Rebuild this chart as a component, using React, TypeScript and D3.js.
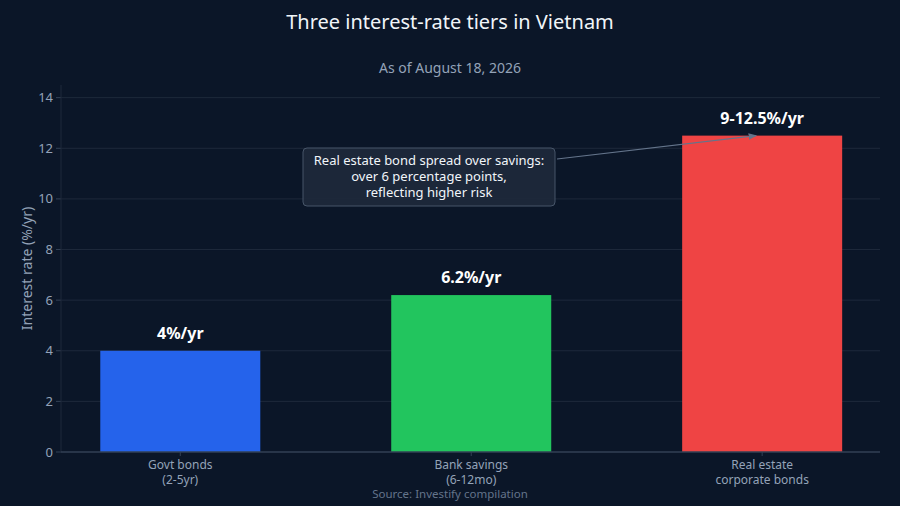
// App.tsx
import React from "react"
import * as d3 from "d3"

const categories = ["Govt bonds\n(2-5yr)", "Bank savings\n(6-12mo)", "Real estate\ncorporate bonds"]
const rates = [4, 6.2, 12.5]
const valueLabels = ["4%/yr", "6.2%/yr", "9-12.5%/yr"]
const barColors = ["#2563eb", "#22c55e", "#ef4444"]
const yTicks = [0, 2, 4, 6, 8, 10, 12, 14]
const noteLines = ["Real estate bond spread over savings:", "over 6 percentage points,", "reflecting higher risk"]

const W = 900
const H = 506
const FONT = "'Noto Sans', 'Open Sans', sans-serif"

export default function App() {
    const left = 61
    const right = 880
    const top = 85
    const bottom = 452

    // x positions: index -> pixel (categories at 0,1,2)
    const x = d3.scaleLinear().domain([-0.41, 2.405]).range([left, right])
    const y = d3.scaleLinear().domain([0, 14.5]).range([bottom, top])
    const barW = x(0.55) - x(0)

    // annotation anchor: top of last bar
    const ax = x(2) - 6
    const ay = y(rates[2])
    const box = { x: 303, y: 148, w: 252, h: 58 }

    return (
        <svg width={W} height={H} style={{ position: "absolute", left: 0, top: 0, background: "#0b1628" }} fontFamily={FONT}>
            <defs>
                <marker id="arr" viewBox="0 0 10 10" refX="9" refY="5" markerWidth="7" markerHeight="7" orient="auto">
                    <path d="M0,1 L10,5 L0,9 z" fill="#64748b" />
                </marker>
            </defs>
            <rect width={W} height={H} fill="#0b1628" />

            <text x={W / 2} y={29} textAnchor="middle" fontSize={20} fill="#f1f5f9">
                Three interest-rate tiers in Vietnam
            </text>
            <text x={W / 2} y={73} textAnchor="middle" fontSize={14} fill="#94a3b8">
                As of August 18, 2026
            </text>

            {/* grid */}
            {yTicks.map((t) => (
                <g key={t}>
                    {t > 0 && <line x1={left} x2={right} y1={y(t)} y2={y(t)} stroke="#1e293b" strokeWidth={1} />}
                    <line x1={left - 5} x2={left} y1={y(t)} y2={y(t)} stroke="#334155" />
                    <text x={left - 8} y={y(t) + 4.5} textAnchor="end" fontSize={13} fill="#94a3b8">
                        {t}
                    </text>
                </g>
            ))}
            <line x1={left} x2={left} y1={top} y2={bottom} stroke="#1e293b" />

            {/* bars */}
            {rates.map((v, i) => (
                <g key={i}>
                    <rect x={x(i) - barW / 2} y={y(v)} width={barW} height={y(0) - y(v)} fill={barColors[i]} />
                    <text x={x(i)} y={y(v) - 12} textAnchor="middle" fontSize={16} fontWeight="bold" fill="#ffffff">
                        {valueLabels[i]}
                    </text>
                </g>
            ))}

            <line x1={left} x2={right} y1={bottom} y2={bottom} stroke="#334155" strokeWidth={1.5} />

            {/* x labels */}
            {categories.map((c, i) => (
                <g key={c}>
                    <line x1={x(i)} x2={x(i)} y1={bottom} y2={bottom + 4} stroke="#334155" />
                    {c.split("\n").map((line, j) => (
                        <text key={j} x={x(i)} y={bottom + 17 + j * 15} textAnchor="middle" fontSize={12} fill="#94a3b8">
                            {line}
                        </text>
                    ))}
                </g>
            ))}

            <text
                transform={`translate(32,${(top + bottom) / 2}) rotate(-90)`}
                textAnchor="middle"
                fontSize={14}
                fill="#94a3b8"
                y={0}
            >
                Interest rate (%/yr)
            </text>

            <text x={W / 2} y={498} textAnchor="middle" fontSize={11.5} fill="#64748b">
                Source: Investify compilation
            </text>

            {/* annotation */}
            <line x1={box.x + box.w + 2} y1={box.y + 11} x2={ax} y2={ay} stroke="#64748b" strokeWidth={1.2} markerEnd="url(#arr)" />
            <rect x={box.x} y={box.y} width={box.w} height={box.h} rx={4} fill="#1e293b" fillOpacity={0.9} stroke="#475569" />
            {noteLines.map((l, j) => (
                <text key={j} x={box.x + box.w / 2} y={box.y + 17 + j * 16} textAnchor="middle" fontSize={13} fill="#f1f5f9">
                    {l}
                </text>
            ))}
        </svg>
    )
}
